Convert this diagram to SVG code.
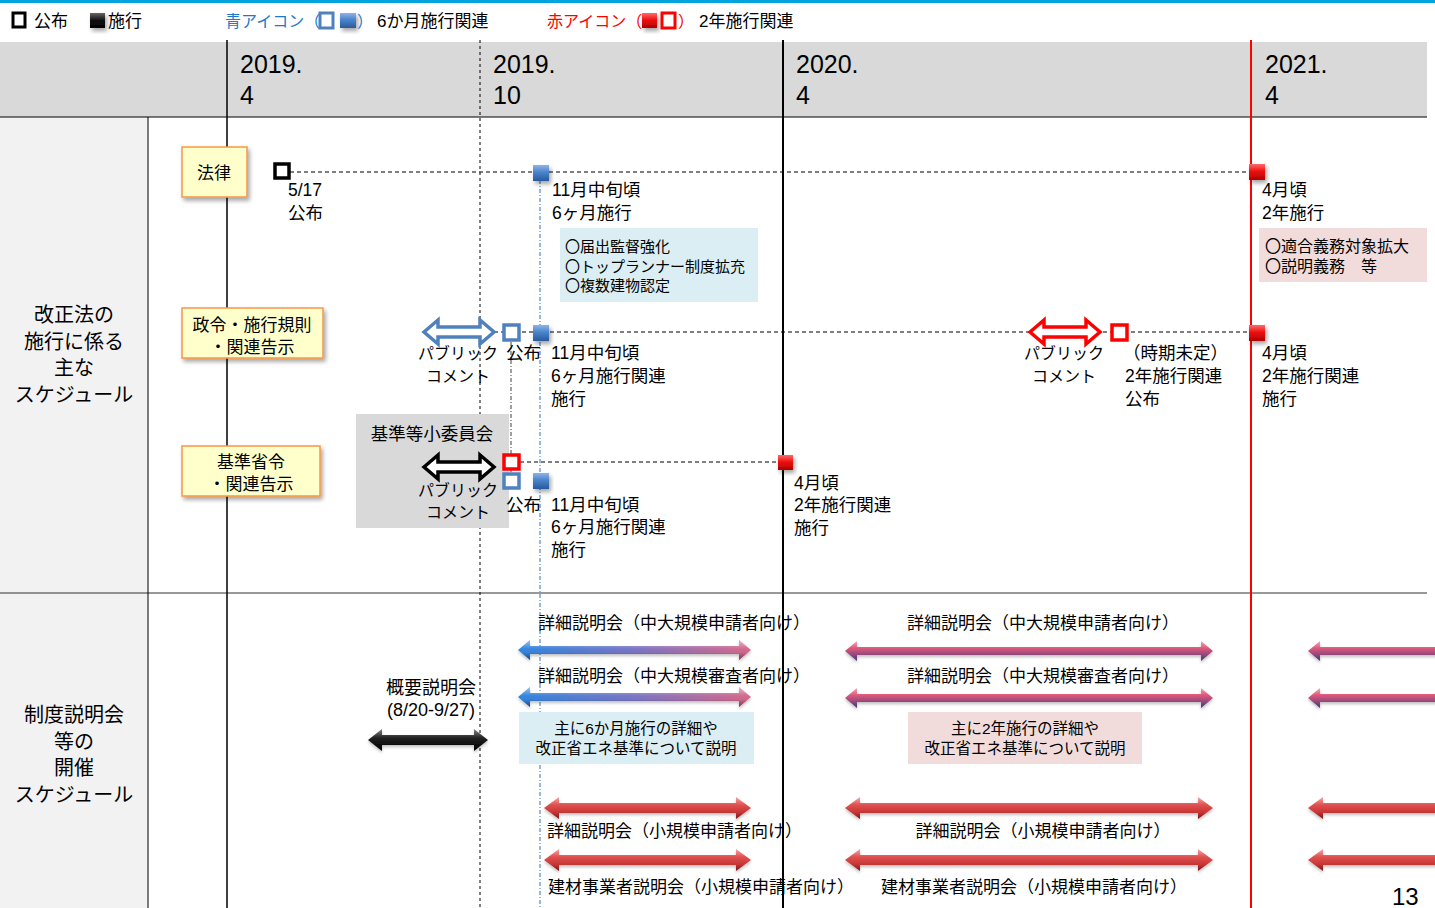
<svg xmlns="http://www.w3.org/2000/svg" width="1435" height="908" viewBox="0 0 1435 908">
<style>
text{font-family:"Liberation Sans","Noto Sans CJK JP",sans-serif;fill:#000}
.t{font-size:17.5px}
.pc{font-size:16px}
.lg{font-size:17px}
.lgc{font-size:16px}
.hd{font-size:25px}
.lb{font-size:20px}
.bx{font-size:17px}
.sm{font-size:16px}
.sm15{font-size:15px}
.bt{font-size:17px}
.bb{font-size:15.5px}
.mid{text-anchor:middle}
.ybox{fill:#ffffcc;stroke:#f79646;stroke-width:1.5}
.dash{stroke:#000;stroke-width:1.2;stroke-dasharray:4 3;fill:none}
.hollowB{fill:#fff;stroke:#4f81bd;stroke-width:3.5}
.hollowR{fill:#fff;stroke:#ff0000;stroke-width:3.5}
.hollowK{fill:#fff;stroke:#000;stroke-width:3.5}
</style>
<defs>
<filter id="sh" x="-20%" y="-20%" width="150%" height="160%"><feDropShadow dx="2" dy="3" stdDeviation="2" flood-color="#000" flood-opacity="0.35"/></filter>
<filter id="ash" x="-5%" y="-50%" width="110%" height="200%"><feDropShadow dx="0" dy="2" stdDeviation="1.5" flood-color="#000" flood-opacity="0.25"/></filter>
<linearGradient id="gBlueSq" x1="0" y1="0" x2="0" y2="1"><stop offset="0" stop-color="#8db4e8"/><stop offset="0.45" stop-color="#4a84cc"/><stop offset="1" stop-color="#2a5a9c"/></linearGradient>
<linearGradient id="gRedSq" x1="0" y1="0" x2="0" y2="1"><stop offset="0" stop-color="#ff6a6a"/><stop offset="0.45" stop-color="#ee1111"/><stop offset="1" stop-color="#b00000"/></linearGradient>
<linearGradient id="gBlkSq" x1="0" y1="0" x2="0" y2="1"><stop offset="0" stop-color="#666"/><stop offset="0.5" stop-color="#111"/><stop offset="1" stop-color="#000"/></linearGradient>
<linearGradient id="gBR" x1="0" y1="0" x2="1" y2="0"><stop offset="0" stop-color="#2f86e0"/><stop offset="0.5" stop-color="#7a74c4"/><stop offset="1" stop-color="#d8688a"/></linearGradient>
<linearGradient id="gShade" x1="0" y1="0" x2="0" y2="1"><stop offset="0" stop-color="#fff" stop-opacity="0.55"/><stop offset="0.4" stop-color="#fff" stop-opacity="0.05"/><stop offset="0.6" stop-color="#000" stop-opacity="0"/><stop offset="1" stop-color="#000" stop-opacity="0.45"/></linearGradient>
<linearGradient id="gPN" x1="0" y1="0" x2="0" y2="1"><stop offset="0" stop-color="#f7a8bc"/><stop offset="0.35" stop-color="#e0587c"/><stop offset="0.65" stop-color="#9a4a7e"/><stop offset="1" stop-color="#383c78"/></linearGradient>
<linearGradient id="gRed" x1="0" y1="0" x2="0" y2="1"><stop offset="0" stop-color="#f6a8a8"/><stop offset="0.35" stop-color="#e05252"/><stop offset="0.7" stop-color="#c83434"/><stop offset="1" stop-color="#7a1a1a"/></linearGradient>
<linearGradient id="gBlk" x1="0" y1="0" x2="0" y2="1"><stop offset="0" stop-color="#888"/><stop offset="0.4" stop-color="#222"/><stop offset="1" stop-color="#000"/></linearGradient>
</defs>

<rect x="0" y="0" width="1435" height="908" fill="#fff"/>
<rect x="0" y="0" width="1435" height="3" fill="#00a3dc"/>

<g id="grid">
<rect x="0" y="42" width="1427" height="75" fill="#d9d9d9"/>
<rect x="0" y="117" width="148" height="791" fill="#f2f2f2"/>
<line x1="0" y1="117" x2="1427" y2="117" stroke="#000" stroke-width="1.2"/>
<line x1="0" y1="593" x2="1427" y2="593" stroke="#333" stroke-width="1"/>
<line x1="148" y1="117" x2="148" y2="908" stroke="#000" stroke-width="1"/>
<line x1="227" y1="40" x2="227" y2="908" stroke="#000" stroke-width="1.5"/>
<line x1="480" y1="40" x2="480" y2="908" stroke="#000" stroke-width="1" stroke-dasharray="3 3"/>
<line x1="783" y1="40" x2="783" y2="908" stroke="#000" stroke-width="2"/>
<line x1="1251" y1="40" x2="1251" y2="908" stroke="#ff0000" stroke-width="2"/>
<line x1="540" y1="180" x2="540" y2="908" stroke="#2e75b6" stroke-width="1" stroke-dasharray="4 2 1 2"/>
<line x1="511" y1="342" x2="511" y2="473" stroke="#808080" stroke-width="1.5" stroke-dasharray="4 2 1 2"/>
<text class="hd" x="240" y="73">2019.</text><text class="hd" x="240" y="104">4</text>
<text class="hd" x="493" y="73">2019.</text><text class="hd" x="493" y="104">10</text>
<text class="hd" x="796" y="73">2020.</text><text class="hd" x="796" y="104">4</text>
<text class="hd" x="1265" y="73">2021.</text><text class="hd" x="1265" y="104">4</text>
<text class="hd" x="1392" y="905" style="font-size:24px">13</text>
</g>

<g id="legend">
<rect x="13" y="13" width="12" height="14" fill="#fff" stroke="#000" stroke-width="3"/>
<text class="lg" x="34" y="27">公布</text>
<rect x="90" y="13" width="15" height="15" fill="url(#gBlkSq)" filter="url(#sh)"/>
<text class="lg" x="108" y="27">施行</text>
<text class="lgc" x="225" y="27" style="fill:#1f78c8">青アイコン（</text>
<rect x="320" y="13" width="13" height="15" fill="#fff" stroke="#4f81bd" stroke-width="3"/>
<rect x="340" y="13" width="16" height="15" fill="url(#gBlueSq)" filter="url(#sh)"/>
<text class="lgc" x="357" y="27" style="fill:#1f78c8">）</text>
<text class="lg" x="377" y="27">6か月施行関連</text>
<text class="lgc" x="547" y="27" style="fill:#ff0000">赤アイコン（</text>
<rect x="642" y="13" width="15" height="15" fill="url(#gRedSq)" filter="url(#sh)"/>
<rect x="662" y="13" width="13" height="15" fill="#fff" stroke="#ff0000" stroke-width="3"/>
<text class="lgc" x="678" y="27" style="fill:#ff0000">）</text>
<text class="lg" x="699" y="27">2年施行関連</text>
</g>

<g id="label-schedule">
<text class="lb mid" x="74" y="322">改正法の</text>
<text class="lb mid" x="74" y="349">施行に係る</text>
<text class="lb mid" x="74" y="375">主な</text>
<text class="lb mid" x="74" y="402">スケジュール</text>
</g>
<g id="label-briefing">
<text class="lb mid" x="74" y="722">制度説明会</text>
<text class="lb mid" x="74" y="749">等の</text>
<text class="lb mid" x="74" y="775">開催</text>
<text class="lb mid" x="74" y="802">スケジュール</text>
</g>

<g id="connectors">
<line class="dash" x1="290" y1="172" x2="1250" y2="172"/>
<line class="dash" x1="494" y1="332" x2="1250" y2="332"/>
<line class="dash" x1="520" y1="462" x2="780" y2="462"/>
</g>

<g id="node-law">
<rect class="ybox" x="182" y="147" width="65" height="50" filter="url(#sh)"/>
<text class="bx mid" x="214" y="179">法律</text>
</g>
<g id="law-promulgation">
<rect x="275" y="164" width="14" height="14" fill="#fff" stroke="#000" stroke-width="3.5"/>
<text class="t" x="288" y="196">5/17</text>
<text class="t" x="288" y="219">公布</text>
</g>
<g id="law-6m">
<rect x="533" y="165" width="16" height="16" fill="url(#gBlueSq)" filter="url(#sh)"/>
<text class="t" x="552" y="196">11月中旬頃</text>
<text class="t" x="552" y="219">6ヶ月施行</text>
<rect x="560" y="228" width="198" height="74" fill="#daeef3"/>
<text class="sm15" x="565" y="252">〇届出監督強化</text>
<text class="sm15" x="565" y="272">〇トップランナー制度拡充</text>
<text class="sm15" x="565" y="291">〇複数建物認定</text>
</g>
<g id="law-2y">
<rect x="1249" y="164" width="16" height="16" fill="url(#gRedSq)" filter="url(#sh)"/>
<text class="t" x="1262" y="196">4月頃</text>
<text class="t" x="1262" y="219">2年施行</text>
<rect x="1259" y="228" width="168" height="54" fill="#f2dcdb"/>
<text class="sm" x="1265" y="252">〇適合義務対象拡大</text>
<text class="sm" x="1265" y="272">〇説明義務　等</text>
</g>

<g id="node-order">
<rect class="ybox" x="182" y="308" width="141" height="50" filter="url(#sh)"/>
<text class="bx mid" x="252" y="331">政令・施行規則</text>
<text class="bx mid" x="252" y="353">・関連告示</text>
</g>
<g id="order-pc6">
<path class="hollowB" d="M424 332 L438 320 L438 327 L480 327 L480 320 L494 332 L480 344 L480 337 L438 337 L438 344 Z"/>
<text class="pc mid" x="458" y="359">パブリック</text>
<text class="pc mid" x="458" y="382">コメント</text>
</g>
<g id="order-pub6">
<rect x="504" y="325" width="15" height="15" fill="#fff" stroke="#4f81bd" stroke-width="3.5"/>
<text class="t" x="506" y="359">公布</text>
</g>
<g id="order-6m">
<rect x="533" y="325" width="16" height="16" fill="url(#gBlueSq)" filter="url(#sh)"/>
<text class="t" x="551" y="359">11月中旬頃</text>
<text class="t" x="551" y="382">6ヶ月施行関連</text>
<text class="t" x="551" y="405">施行</text>
</g>
<g id="order-pc2">
<path class="hollowR" d="M1030 332 L1044 320 L1044 327 L1086 327 L1086 320 L1100 332 L1086 344 L1086 337 L1044 337 L1044 344 Z"/>
<text class="pc mid" x="1064" y="359">パブリック</text>
<text class="pc mid" x="1064" y="382">コメント</text>
</g>
<g id="order-pub2">
<rect x="1112" y="325" width="15" height="15" fill="#fff" stroke="#ff0000" stroke-width="3.5"/>
<text class="t" x="1123" y="359">（時期未定）</text>
<text class="t" x="1125" y="382">2年施行関連</text>
<text class="t" x="1125" y="405">公布</text>
</g>
<g id="order-2y">
<rect x="1249" y="325" width="16" height="16" fill="url(#gRedSq)" filter="url(#sh)"/>
<text class="t" x="1262" y="359">4月頃</text>
<text class="t" x="1262" y="382">2年施行関連</text>
<text class="t" x="1262" y="405">施行</text>
</g>

<g id="node-standard">
<rect class="ybox" x="182" y="446" width="138" height="50" filter="url(#sh)"/>
<text class="bx mid" x="251" y="468">基準省令</text>
<text class="bx mid" x="251" y="490">・関連告示</text>
</g>
<g id="committee">
<rect x="356" y="414" width="153" height="114" fill="#d9d9d9"/>
<text class="t mid" x="432" y="440">基準等小委員会</text>
<path class="hollowK" d="M424 467 L438 455 L438 462 L480 462 L480 455 L494 467 L480 479 L480 472 L438 472 L438 479 Z"/>
<text class="pc mid" x="458" y="496">パブリック</text>
<text class="pc mid" x="458" y="518">コメント</text>
</g>
<g id="standard-pub">
<rect x="504" y="455" width="15" height="14" fill="#fff" stroke="#ff0000" stroke-width="3.5"/>
<rect x="504" y="474" width="15" height="14" fill="#fff" stroke="#4f81bd" stroke-width="3.5"/>
<text class="t" x="506" y="511">公布</text>
</g>
<g id="standard-6m">
<rect x="533" y="473" width="16" height="16" fill="url(#gBlueSq)" filter="url(#sh)"/>
<text class="t" x="551" y="511">11月中旬頃</text>
<text class="t" x="551" y="533">6ヶ月施行関連</text>
<text class="t" x="551" y="556">施行</text>
</g>
<g id="standard-2y">
<rect x="778" y="455" width="15" height="15" fill="url(#gRedSq)" filter="url(#sh)"/>
<text class="t" x="794" y="489">4月頃</text>
<text class="t" x="794" y="511">2年施行関連</text>
<text class="t" x="794" y="534">施行</text>
</g>

<g id="overview-briefing">
<text class="t mid" x="431" y="694" style="font-size:18px">概要説明会</text>
<text class="t mid" x="431" y="716" style="font-size:18px">(8/20-9/27)</text>
<path d="M368 740 L382 729 L382 735 L474 735 L474 729 L488 740 L474 751 L474 745 L382 745 L382 751 Z" fill="url(#gBlk)" filter="url(#ash)"/>
</g>

<g id="briefing-6m">
<text class="bt" x="538" y="629">詳細説明会（中大規模申請者向け）</text>
<path d="M518 650 L530 640 L530 646 L739 646 L739 640 L751 650 L739 660 L739 654 L530 654 L530 660 Z" fill="url(#gBR)" filter="url(#ash)"/>
<path d="M518 650 L530 640 L530 646 L739 646 L739 640 L751 650 L739 660 L739 654 L530 654 L530 660 Z" fill="url(#gShade)"/>
<text class="bt" x="538" y="682">詳細説明会（中大規模審査者向け）</text>
<path d="M518 697 L530 687 L530 693 L739 693 L739 687 L751 697 L739 707 L739 701 L530 701 L530 707 Z" fill="url(#gBR)" filter="url(#ash)"/>
<path d="M518 697 L530 687 L530 693 L739 693 L739 687 L751 697 L739 707 L739 701 L530 701 L530 707 Z" fill="url(#gShade)"/>
<rect x="519" y="712" width="235" height="52" fill="#daeef3"/>
<text class="bb mid" x="636" y="734">主に6か月施行の詳細や</text>
<text class="bb mid" x="636" y="754">改正省エネ基準について説明</text>
</g>

<g id="briefing-2y">
<text class="bt mid" x="1043" y="629">詳細説明会（中大規模申請者向け）</text>
<path d="M845 651 L857 641 L857 647 L1201 647 L1201 641 L1213 651 L1201 661 L1201 655 L857 655 L857 661 Z" fill="url(#gPN)" filter="url(#ash)"/>
<text class="bt mid" x="1043" y="682">詳細説明会（中大規模審査者向け）</text>
<path d="M845 698 L857 688 L857 694 L1201 694 L1201 688 L1213 698 L1201 708 L1201 702 L857 702 L857 708 Z" fill="url(#gPN)" filter="url(#ash)"/>
<rect x="908" y="712" width="234" height="52" fill="#f2dcdb"/>
<text class="bb mid" x="1025" y="734">主に2年施行の詳細や</text>
<text class="bb mid" x="1025" y="754">改正省エネ基準について説明</text>
</g>

<g id="briefing-small-6m">
<path d="M544 808 L559 797 L559 803 L736 803 L736 797 L751 808 L736 819 L736 813 L559 813 L559 819 Z" fill="url(#gRed)" filter="url(#ash)"/>
<text class="bt" x="547" y="837">詳細説明会（小規模申請者向け）</text>
<path d="M544 860 L559 849 L559 855 L736 855 L736 849 L751 860 L736 871 L736 865 L559 865 L559 871 Z" fill="url(#gRed)" filter="url(#ash)"/>
<text class="bt" x="548" y="893">建材事業者説明会（小規模申請者向け）</text>
</g>

<g id="briefing-small-2y">
<path d="M845 808 L860 797 L860 803 L1198 803 L1198 797 L1213 808 L1198 819 L1198 813 L860 813 L860 819 Z" fill="url(#gRed)" filter="url(#ash)"/>
<text class="bt mid" x="1043" y="837">詳細説明会（小規模申請者向け）</text>
<path d="M845 860 L860 849 L860 855 L1198 855 L1198 849 L1213 860 L1198 871 L1198 865 L860 865 L860 871 Z" fill="url(#gRed)" filter="url(#ash)"/>
<text class="bt" x="881" y="893">建材事業者説明会（小規模申請者向け）</text>
</g>

<g id="briefing-2021">
<path d="M1308 651 L1320 641 L1320 647 L1440 647 L1440 655 L1320 655 L1320 661 Z" fill="url(#gPN)" filter="url(#ash)"/>
<path d="M1308 698 L1320 688 L1320 694 L1440 694 L1440 702 L1320 702 L1320 708 Z" fill="url(#gPN)" filter="url(#ash)"/>
<path d="M1308 808 L1323 797 L1323 803 L1440 803 L1440 813 L1323 813 L1323 819 Z" fill="url(#gRed)" filter="url(#ash)"/>
<path d="M1308 860 L1323 849 L1323 855 L1440 855 L1440 865 L1323 865 L1323 871 Z" fill="url(#gRed)" filter="url(#ash)"/>
</g>
</svg>
